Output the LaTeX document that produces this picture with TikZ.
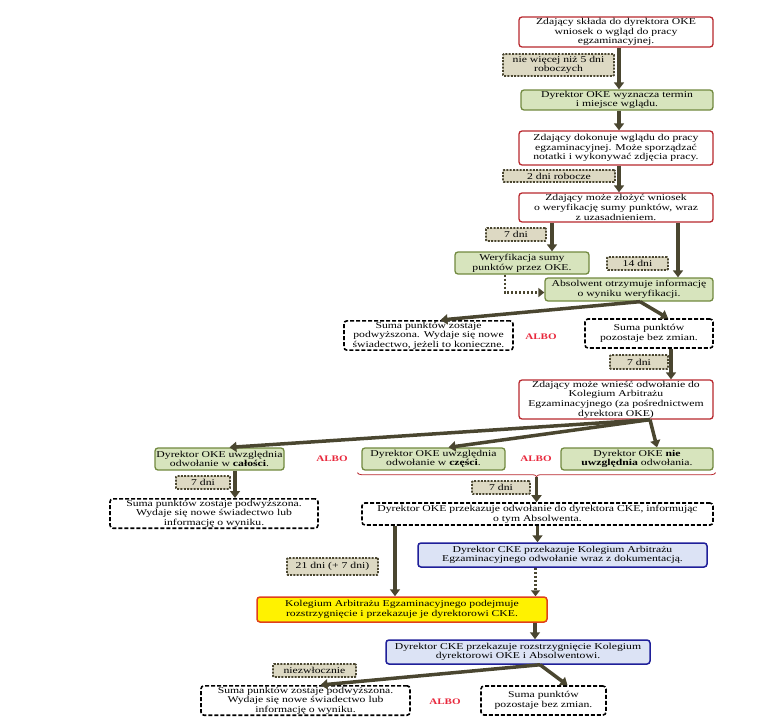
\documentclass[tikz,border=0pt]{standalone}
\usepackage{fontspec}
\setmainfont{Liberation Serif}[FakeStretch=1.3]
\usetikzlibrary{arrows.meta,decorations.pathreplacing}

\definecolor{boxred}{HTML}{B8282E}
\definecolor{leaffill}{HTML}{D7E4BD}
\definecolor{leafedge}{HTML}{71893F}
\definecolor{olivearrow}{HTML}{4A4630}
\definecolor{dayfill}{HTML}{DDD9C3}
\definecolor{ckefill}{HTML}{DCE3F5}
\definecolor{ckeedge}{HTML}{1F1F99}
\definecolor{kaeedge}{HTML}{E0401A}
\definecolor{albored}{HTML}{E8283C}

\begin{document}
\begin{tikzpicture}[
    x=1pt,y=-1pt,
    font=\fontsize{9}{9.6}\selectfont,
    box/.style={rounded corners=3pt,align=center,inner sep=1pt,line width=1.3pt},
    wh/.style 2 args={minimum width=#1,minimum height=#2},
    redbox/.style={box,draw=boxred,fill=white},
    greenbox/.style={box,draw=leafedge,fill=leaffill},
    dashbox/.style={box,draw=black,fill=white,line width=1.6pt,
                    dash pattern=on 4pt off 2pt},
    daybox/.style={box,rounded corners=1pt,draw=olivearrow,fill=dayfill,
                   line width=1.8pt,dash pattern=on 2pt off 1.3pt},
    bluebox/.style={box,draw=ckeedge,fill=ckefill,line width=1.5pt},
    yellowbox/.style={box,draw=kaeedge,fill=yellow,line width=1.5pt},
    albo/.style={text=albored,font=\fontsize{8.5}{9}\selectfont\bfseries},
    arr/.style={draw=olivearrow,line width=3.5pt,
                -{Triangle[width=10pt,length=7pt]}},
    dotarr/.style={draw=olivearrow,line width=2.8pt,dash pattern=on 2pt off 2pt,
                   -{Triangle[width=9pt,length=6pt]}}
  ]
    \useasboundingbox (0,0) rectangle (764,723);

    % wglad do pracy
    \node[redbox,wh={194pt}{30pt}] (skl) at (616,32)
      {Zdający składa do dyrektora OKE\\wniosek o wgląd do pracy\\egzaminacyjnej.};
    \node[daybox,wh={111pt}{22pt}] (d5) at (558.5,65) {nie więcej niż 5 dni\\roboczych};
    \node[greenbox,wh={192pt}{20pt}] (termin) at (617,100)
      {Dyrektor OKE wyznacza termin\\i miejsce wglądu.};
    \node[redbox,wh={194pt}{34pt}] (wglad) at (616,148)
      {Zdający dokonuje wglądu do pracy\\egzaminacyjnej. Może sporządzać\\notatki i wykonywać zdjęcia pracy.};
    \node[daybox,wh={112pt}{12pt}] (d2) at (559,176) {2 dni robocze};

    % weryfikacja sumy punktow
    \node[redbox,wh={194pt}{29pt}] (wnWer) at (616,207.5)
      {Zdający może złożyć wniosek\\o weryfikację sumy punktów, wraz\\z uzasadnieniem.};
    \node[daybox,wh={60pt}{13pt}] (d7a) at (516,234.5) {7 dni};
    \node[greenbox,wh={134pt}{22pt}] (wer) at (522,263) {Weryfikacja sumy\\punktów przez OKE.};
    \node[daybox,wh={61pt}{13pt}] (d14) at (637.5,263.5) {14 dni};
    \node[greenbox,wh={168pt}{23pt}] (info) at (629,289.5)
      {Absolwent otrzymuje informację\\o wyniku weryfikacji.};
    \node[dashbox,wh={169pt}{29pt}] (podw1) at (428.5,335.5)
      {Suma punktów zostaje\\podwyższona. Wydaje się nowe\\świadectwo, jeżeli to konieczne.};
    \node[albo] (albo1) at (541,337) {ALBO};
    \node[dashbox,wh={128pt}{29pt}] (bez1) at (649,333.5) {Suma punktów\\pozostaje bez zmian.};
    \node[daybox,wh={58pt}{14pt}] (d7b) at (639,362) {7 dni};

    % odwolanie
    \node[redbox,wh={194pt}{39pt}] (odw) at (616,399.5)
      {Zdający może wnieść odwołanie do\\Kolegium Arbitrażu\\Egzaminacyjnego (za pośrednictwem\\dyrektora OKE)};
    \node[greenbox,wh={129pt}{22pt}] (calosc) at (219.5,459)
      {Dyrektor OKE uwzględnia\\odwołanie w \textbf{całości}.};
    \node[albo] (albo2) at (332,459) {ALBO};
    \node[greenbox,wh={143pt}{22pt}] (czesc) at (433.5,459)
      {Dyrektor OKE uwzględnia\\odwołanie w \textbf{części}.};
    \node[albo] (albo3) at (536,459) {ALBO};
    \node[greenbox,wh={152pt}{22pt}] (nieuw) at (637,459)
      {Dyrektor OKE \textbf{nie}\\\textbf{uwzględnia} odwołania.};
    \node[daybox,wh={54pt}{13pt}] (d7c) at (203,482.5) {7 dni};
    \node[dashbox,wh={208pt}{29pt}] (podw2) at (214,513.5)
      {Suma punktów zostaje podwyższona.\\Wydaje się nowe świadectwo lub\\informację o wyniku.};
    \node[daybox,wh={58pt}{13pt}] (d7d) at (501,487.5) {7 dni};
    \node[dashbox,wh={351pt}{22pt}] (doCKE) at (537.5,514)
      {Dyrektor OKE przekazuje odwołanie do dyrektora CKE, informując\\o tym Absolwenta.};
    \node[bluebox,wh={289pt}{24pt}] (doKAE) at (562.5,555)
      {Dyrektor CKE przekazuje Kolegium Arbitrażu\\Egzaminacyjnego odwołanie wraz z dokumentacją.};
    \node[daybox,wh={91pt}{17pt}] (d21) at (332.5,566.5) {21 dni (+ 7 dni)};
    \node[yellowbox,wh={290pt}{25pt}] (kae) at (402,609.5)
      {Kolegium Arbitrażu Egzaminacyjnego podejmuje\\rozstrzygnięcie i przekazuje je dyrektorowi CKE.};
    \node[bluebox,wh={264pt}{24pt}] (rozstr) at (518,652)
      {Dyrektor CKE przekazuje rozstrzygnięcie Kolegium\\dyrektorowi OKE i Absolwentowi.};
    \node[daybox,wh={83pt}{13pt}] (dnow) at (314.5,670.5) {niezwłocznie};
    \node[dashbox,wh={209pt}{29pt}] (podw3) at (305.5,700.5)
      {Suma punktów zostaje podwyższona.\\Wydaje się nowe świadectwo lub\\informację o wyniku.};
    \node[albo] (albo4) at (445,702) {ALBO};
    \node[dashbox,wh={125pt}{29pt}] (bez3) at (543.5,700.5) {Suma punktów\\pozostaje bez zmian.};

    % klamra pod czesc / nie
    \draw[decorate,decoration={brace,mirror,amplitude=4pt},draw=boxred,line width=0.8pt]
      ([xshift=-4pt,yshift=-2pt]czesc.south west) -- ([xshift=2pt,yshift=-2pt]nieuw.south east)
      coordinate[midway,yshift=-4pt] (brTip);

    % strzalki
    \draw[arr] ([xshift=3pt]skl.south) -- ([xshift=3pt]skl.south |- termin.north);
    \draw[arr] ([xshift=2pt]termin.south) -- ([xshift=2pt]termin.south |- wglad.north);
    \draw[arr] ([xshift=3pt]wglad.south) -- ([xshift=3pt]wglad.south |- wnWer.north);
    \draw[arr] ([xshift=-64pt]wnWer.south) -- ([xshift=-64pt]wnWer.south |- wer.north);
    \draw[arr] ([xshift=62pt]wnWer.south) -- ([xshift=62pt]wnWer.south |- info.north);
    \draw[dotarr] ([xshift=-17pt]wer.south) |- ([yshift=-3pt]info.west);
    \draw[arr] ([xshift=11pt]info.south) -- ([xshift=12pt]podw1.north);
    \draw[arr] ([xshift=11pt]info.south) -- ([xshift=19pt]bez1.north);
    \draw[arr] ([xshift=22pt]bez1.south) -- ([xshift=22pt]bez1.south |- odw.north);
    \draw[arr] ([xshift=34pt]odw.south) -- ([xshift=10pt]calosc.north);
    \draw[arr] ([xshift=34pt]odw.south) -- ([xshift=15pt]czesc.north);
    \draw[arr] ([xshift=34pt]odw.south) -- ([xshift=20pt]nieuw.north);
    \draw[arr] ([xshift=15.5pt]calosc.south) -- ([xshift=15.5pt]calosc.south |- podw2.north);
    \draw[arr] (brTip) -- (brTip |- doCKE.north);
    \draw[arr] (doCKE.south) -- (doCKE.south |- doKAE.north);
    \draw[arr] ([xshift=-142.5pt]doCKE.south) -- ([xshift=-142.5pt]doCKE.south |- kae.north);
    \draw[dotarr] ([xshift=-27pt]doKAE.south) -- ([xshift=-27pt]doKAE.south |- kae.north);
    \draw[arr] ([xshift=133pt]kae.south) -- ([xshift=133pt]kae.south |- rozstr.north);
    \draw[arr] ([xshift=22pt]rozstr.south) -- ([xshift=15pt]podw3.north);
    \draw[arr] ([xshift=22pt]rozstr.south) -- ([xshift=24pt]bez3.north);
  \end{tikzpicture}
\end{document}
